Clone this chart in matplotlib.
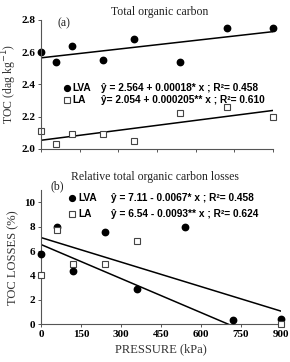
import numpy as np
import matplotlib
matplotlib.use("Agg")
import matplotlib.pyplot as plt

# data
pressure = [0, 60, 120, 240, 360, 540, 720, 900]
toc_lva = [2.60, 2.54, 2.64, 2.55, 2.68, 2.54, 2.75, 2.75]
toc_la = [2.11, 2.03, 2.09, 2.09, 2.05, 2.22, 2.26, 2.20]

loss_p_lva = [0, 60, 120, 240, 360, 540, 720, 900]
loss_lva = [5.8, 7.95, 4.35, 7.6, 2.9, 7.95, 0.35, 0.4]
loss_p_la = [0, 60, 120, 240, 360, 900]
loss_la = [4.05, 7.7, 4.95, 4.95, 6.8, 0.0]

# regression coefficients (a, b)
fit_toc_lva = (2.564, 0.00018)
fit_toc_la = (2.054, 0.000205)
fit_loss_lva = (7.11, -0.0067)
fit_loss_la = (6.54, -0.0093)

xticks = [0, 150, 300, 450, 600, 750, 900]

serif = "Liberation Serif"
sans = "Liberation Sans"

fig = plt.figure(figsize=(2.9, 3.62), dpi=100)
ax1 = fig.add_axes([0.1414, 0.5884, 0.80, 0.3572])
ax2 = fig.add_axes([0.1414, 0.1041, 0.8276, 0.3708])

axc = "#555555"
for ax in (ax1, ax2):
    for s in ("top", "right"):
        ax.spines[s].set_visible(False)
    for s in ("left", "bottom"):
        ax.spines[s].set_color(axc)
        ax.spines[s].set_linewidth(0.8)
    ax.tick_params(length=2.5, width=0.7, color=axc, pad=1.5)
    ax.set_xlim(0, 900)
    ax.set_xticks(xticks)

# panel (a)
x = np.array([0, 900])
ax1.plot(x, fit_toc_lva[0] + fit_toc_lva[1] * x, color="black", lw=1.1)
ax1.plot(x, fit_toc_la[0] + fit_toc_la[1] * x, color="black", lw=1.1)
ax1.plot(pressure, toc_lva, "o", color="black", ms=4.6, clip_on=False)
ax1.plot(pressure, toc_la, "s", mfc="white", mec="#444444", mew=0.8, ms=4.6, clip_on=False)
ax1.set_ylim(2.0, 2.8)
ax1.set_yticks([2.0, 2.2, 2.4, 2.6, 2.8])
ax1.set_yticklabels(["2.0", "2.2", "2.4", "2.6", "2.8"], fontfamily=serif, fontweight="bold", fontsize=8)
ax1.set_xticklabels([])
ax1.set_ylabel("TOC (dag kg$^{-1}$)", fontfamily=serif, fontsize=8.5, color="#333333")
ax1.yaxis.set_label_coords(-0.095, 0.5)

fig.text(0.552, 0.966, "Total organic carbon", fontfamily=serif, fontsize=8.5, ha="center", va="center", color="#222222")
fig.text(0.20, 0.935, "(a)", fontfamily=serif, fontsize=8.5, ha="left", va="center", color="#222222")

ax1.plot([0.11], [0.475], "o", color="black", ms=4.2, transform=ax1.transAxes, clip_on=False)
ax1.text(0.135, 0.475, "LVA", transform=ax1.transAxes, fontfamily=sans, fontweight="bold", fontsize=7.3, va="center")
ax1.text(0.26, 0.475, "ŷ = 2.564 + 0.00018* x ; R²= 0.458", transform=ax1.transAxes,
         fontfamily=sans, fontweight="bold", fontsize=7.3, va="center")
ax1.plot([0.11], [0.38], "s", mfc="white", mec="#444444", mew=0.8, ms=4.2, transform=ax1.transAxes, clip_on=False)
ax1.text(0.135, 0.38, "LA", transform=ax1.transAxes, fontfamily=sans, fontweight="bold", fontsize=7.3, va="center")
ax1.text(0.26, 0.38, "ŷ= 2.054 + 0.000205** x ; R²= 0.610", transform=ax1.transAxes,
         fontfamily=sans, fontweight="bold", fontsize=7.3, va="center")

# panel (b)
ax2.plot(x, fit_loss_lva[0] + fit_loss_lva[1] * x, color="black", lw=1.1)
x0 = -fit_loss_la[0] / fit_loss_la[1]
xl = np.array([0, x0])
ax2.plot(xl, fit_loss_la[0] + fit_loss_la[1] * xl, color="black", lw=1.1)
ax2.plot(loss_p_lva, loss_lva, "o", color="black", ms=4.6, clip_on=False, zorder=3)
ax2.plot(loss_p_la, loss_la, "s", mfc="white", mec="#444444", mew=0.8, ms=4.6, clip_on=False, zorder=3)
ax2.set_ylim(0, 11)
ax2.set_yticks([0, 2, 4, 6, 8, 10])
ax2.set_yticklabels(["0", "2", "4", "6", "8", "10"], fontfamily=serif, fontweight="bold", fontsize=8)
ax2.set_xticklabels([str(v) for v in xticks], fontfamily=serif, fontweight="bold", fontsize=8)
ax2.set_ylabel("TOC LOSSES (%)", fontfamily=serif, fontsize=9, color="#333333")
ax2.yaxis.set_label_coords(-0.09, 0.5)
ax2.set_xlabel("PRESSURE (kPa)", fontfamily=serif, fontsize=9, color="#333333", labelpad=3)

fig.text(0.535, 0.512, "Relative total organic carbon losses", fontfamily=serif, fontsize=8.5, ha="center", va="center", color="#222222")
fig.text(0.175, 0.486, "(b)", fontfamily=serif, fontsize=8.5, ha="left", va="center", color="#222222")

ax2.plot([0.13], [0.94], "o", color="black", ms=4.2, transform=ax2.transAxes, clip_on=False)
ax2.text(0.155, 0.94, "LVA", transform=ax2.transAxes, fontfamily=sans, fontweight="bold", fontsize=7.3, va="center")
ax2.text(0.29, 0.94, "ŷ = 7.11 - 0.0067* x ; R²= 0.458", transform=ax2.transAxes,
         fontfamily=sans, fontweight="bold", fontsize=7.3, va="center")
ax2.plot([0.13], [0.82], "s", mfc="white", mec="#444444", mew=0.8, ms=4.2, transform=ax2.transAxes, clip_on=False)
ax2.text(0.155, 0.82, "LA", transform=ax2.transAxes, fontfamily=sans, fontweight="bold", fontsize=7.3, va="center")
ax2.text(0.29, 0.82, "ŷ = 6.54 - 0.0093** x ; R²= 0.624", transform=ax2.transAxes,
         fontfamily=sans, fontweight="bold", fontsize=7.3, va="center")

fig.savefig("out.png", dpi=100)
